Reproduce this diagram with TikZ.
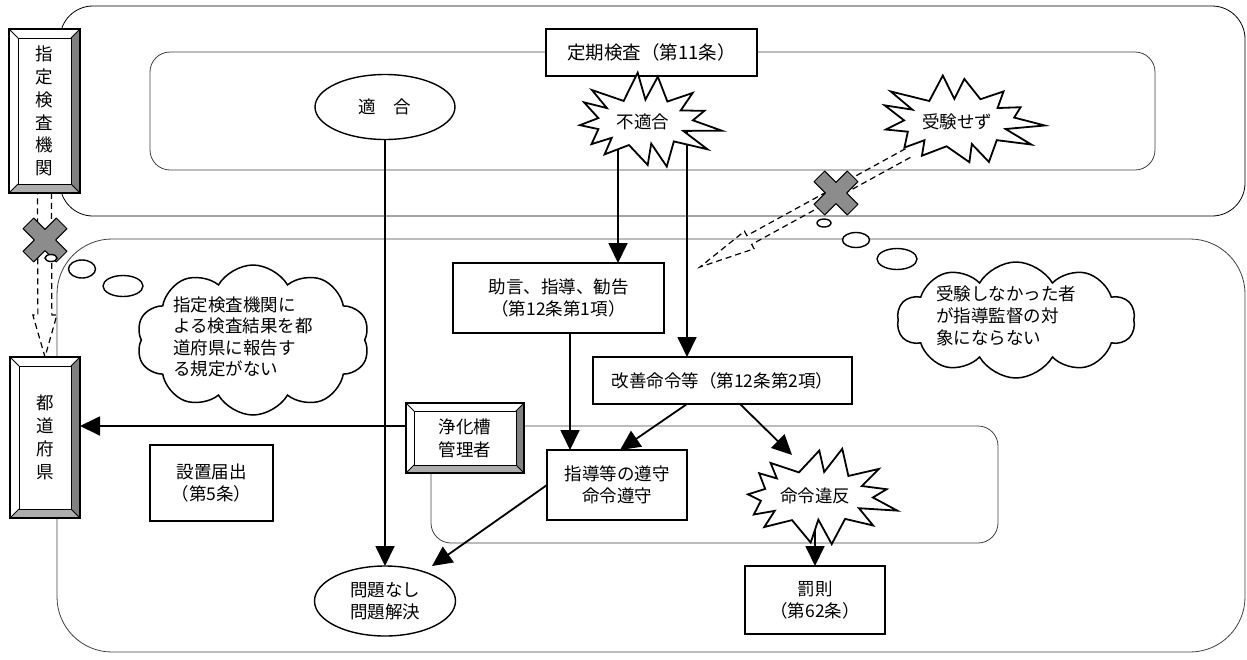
\documentclass[tikz,border=0pt]{standalone}
\usepackage{fontspec}
\setmainfont{Noto Sans CJK JP}
\usetikzlibrary{shapes.symbols,shapes.geometric,arrows.meta,calc,backgrounds}

\newcommand\mybevel[2]{%
  \fill[black!50] (#1.north east) -- (#1.south east) -- ($(#1.south east)+(-#2,-#2)$) -- ($(#1.north east)+(-#2,#2)$) -- cycle;
  \fill[black!32] (#1.south west) -- (#1.south east) -- ($(#1.south east)+(-#2,-#2)$) -- ($(#1.south west)+(#2,-#2)$) -- cycle;
  \draw[line width=1.2pt] (#1.north west) rectangle (#1.south east);
  \draw[line width=1pt] ($(#1.north west)+(#2,#2)$) rectangle ($(#1.south east)+(-#2,-#2)$);
  \draw[line width=0.8pt] (#1.north west) -- ++(#2,#2) (#1.north east) -- ++(-#2,#2)
     (#1.south west) -- ++(#2,-#2) (#1.south east) -- ++(-#2,-#2);
}
\newcommand\myxmark[1]{%
  \draw[xmk, shift={(#1)}, rotate=45] (-7.5,23.5) -- (7.5,23.5) -- (7.5,7.5) -- (23.5,7.5) -- (23.5,-7.5) -- (7.5,-7.5) -- (7.5,-23.5) -- (-7.5,-23.5) -- (-7.5,-7.5) -- (-23.5,-7.5) -- (-23.5,7.5) -- (-7.5,7.5) -- cycle;}
% star: #1 center, #2 rx, #3 ry, #4 inner rx, #5 inner ry, #6 points, #7 seed
\newcommand\mystar[7]{%
  \pgfmathtruncatemacro\mystarlast{#6-1}%
  \draw[burstline, shift={(#1)}]
    ({#2*cos(#7)}, {#3*sin(#7)})
    \foreach \i in {1,...,\mystarlast} {
      -- ({#4*(1-0.12*abs(sin(\i*83+#7)))*cos((\i-0.5)*360/#6+#7)}, {#5*(1-0.12*abs(sin(\i*83+#7)))*sin((\i-0.5)*360/#6+#7)})
      -- ({#2*(1-0.22*abs(sin(\i*157+#7*3)))*cos(\i*360/#6+#7+7*sin(\i*211))}, {#3*(1-0.22*abs(sin(\i*157+#7*3)))*sin(\i*360/#6+#7+7*sin(\i*211))})
    }
    -- ({#4*cos((#6-0.5)*360/#6+#7)}, {#5*sin((#6-0.5)*360/#6+#7)}) -- cycle;
}

\begin{document}
\begin{tikzpicture}[x=1pt,y=-1pt,
  every node/.style={font=\fontsize{17.5}{22.5}\selectfont, inner sep=0pt, outer sep=0pt},
  box/.style={draw, line width=1.5pt, fill=white, align=center},
  bev/.style={fill=white, align=center},
  ell/.style={ellipse, draw, line width=1.4pt, fill=white, align=center},
  burstline/.style={draw, line width=1.8pt, fill=white, line join=miter, miter limit=20},
  cloudsty/.style={cloud, draw, line width=1.5pt, fill=white, cloud puffs=10, cloud puff arc=120, cloud ignores aspect},
  bub/.style={ellipse, draw, line width=1.4pt, fill=white},
  arr/.style={line width=1.8pt, -{Triangle[length=20pt,width=19pt]}},
  frame/.style={line width=0.8pt, draw=black!75},
  hollow/.style={dash pattern=on 6pt off 4pt, line width=1.2pt},
  xmk/.style={fill=black!45, draw, line width=1pt, line join=round}
]
\useasboundingbox (0,0) rectangle (1247,659);

% beveled boxes
\node[bev, minimum width=71pt, minimum height=164pt, font=\fontsize{17.5}{22.8}\selectfont] (skk) at (44.5,111) {指\\定\\検\\査\\機\\関};
\mybevel{skk}{9}
\node[bev, minimum width=70pt, minimum height=161pt, font=\fontsize{17.5}{22.8}\selectfont] (tdf) at (45,437.5) {都\\道\\府\\県};
\mybevel{tdf}{9}

% plain boxes
\node[box, minimum width=211pt, minimum height=47pt, font=\fontsize{18.5}{22.5}\selectfont] (teiki) at (651.5,52.5) {定期検査（第11条）};
\node[box, minimum width=211pt, minimum height=70pt] (jogen) at (558.5,298) {助言、指導、勧告\\（第12条第1項）};
\node[box, minimum width=259pt, minimum height=47pt] (kaizen) at (722.5,380.5) {改善命令等（第12条第2項）};
\node[box, minimum width=123pt, minimum height=76pt] (setchi) at (211.5,483) {設置届出\\（第5条）};
\node[box, minimum width=140pt, minimum height=70pt] (shido) at (617,485) {指導等の遵守\\命令遵守};
\node[box, minimum width=140pt, minimum height=68pt] (bassoku) at (815,600) {罰則\\（第62条）};
\node[ell, minimum width=140pt, minimum height=65pt] (tekigo) at (385,107) {適　合};
\node[ell, minimum width=141pt, minimum height=70pt] (mondai) at (385,601) {問題なし\\問題解決};

% starbursts
\coordinate (futc) at (643,122);
\mystar{futc}{80}{50}{50}{25}{13}{10}
\node (fut) at (futc) {不適合};
\coordinate (jukc) at (957,122);
\mystar{jukc}{88}{50}{58}{26}{13}{4}
\node (juken) at (jukc) {受験せず};
\coordinate (meic) at (815,496);
\mystar{meic}{86}{50}{58}{27}{13}{17}
\node (meirei) at (meic) {命令違反};

% clouds and bubbles
\node[cloudsty, minimum width=233pt, minimum height=150pt] (cl1) at (253,340) {};
\node[align=left, font=\fontsize{17.5}{21.5}\selectfont] (cl1t) at (243,337) {指定検査機関に\\よる検査結果を都\\道府県に報告す\\る規定がない};
\node[cloudsty, minimum width=238pt, minimum height=116pt] (cl2) at (1016,320) {};
\node[align=left, font=\fontsize{17.5}{22}\selectfont] (cl2t) at (1006,316) {受験しなかった者\\が指導監督の対\\象にならない};
\node[bub, minimum width=27pt, minimum height=18pt] (b2) at (82,269) {};
\node[bub, minimum width=40pt, minimum height=21pt] (b3) at (123,286) {};
\node[bub, minimum width=14pt, minimum height=8pt] (b4) at (824,223) {};
\node[bub, minimum width=27pt, minimum height=15pt] (b5) at (856,240) {};
\node[bub, minimum width=40pt, minimum height=21pt] (b6) at (897,259) {};

% manager box
\node[bev, minimum width=118pt, minimum height=70pt, font=\fontsize{17.5}{23}\selectfont] (jk) at (465,438) {浄化槽\\管理者};
\mybevel{jk}{8}

\coordinate (c570) at (570,0);
\coordinate (c618) at (618,0);
\coordinate (c620) at (620,0);
\coordinate (c687) at (687,0);
\coordinate (c740) at (740,0);
\coordinate (lowin) at (0,426);
\coordinate (m1) at (432,566);
\coordinate (mr) at (792,455);

\begin{scope}[on background layer]
  \draw[frame, draw=black] [rounded corners=33pt] (60,6) rectangle (1245,216);
  \draw[frame, rounded corners=20pt] (150,52) rectangle (1155,170);
  \draw[frame, rounded corners=55pt] (57,239) rectangle (1245,652);
  \draw[frame, rounded corners=20pt] (431,426) rectangle (998,543);

  \draw[arr] (tekigo.south) -- (tekigo.south |- mondai.north);
  \draw[arr] (fut.center -| c618) -- (jogen.north -| c618);
  \draw[arr] (fut.center -| c687) -- (kaizen.north -| c687);
  \draw[arr] (jogen.south -| c570) -- (shido.north -| c570);
  \draw[arr] (kaizen.south -| c687) -- (shido.north -| c620);
  \draw[arr] (kaizen.south -| c740) -- (mr);
  \draw[arr] (shido.west) -- (m1);
  \draw[arr] (meirei.center) -- (bassoku.north);
  \draw[arr] (jk.west |- lowin) -- (tdf.east |- lowin);

  % hollow dashed arrows
  \coordinate (ds) at (908,153);
  \coordinate (dt) at (700,267);
  \coordinate (dn) at ($(ds)!181pt!(dt)$);
  \draw[hollow] ($(ds)!5pt!90:(dt)$) -- ($(dn)!5pt!90:(dt)$) -- ($(dn)!10pt!90:(dt)$) -- (dt)
     -- ($(dn)!10pt!-90:(dt)$) -- ($(dn)!5pt!-90:(dt)$) -- ($(ds)!5pt!-90:(dt)$);
  \coordinate (vn) at ($(skk.south)!122pt!(tdf.north)$);
  \draw[hollow] ($(skk.south)!7pt!90:(tdf.north)$) -- ($(vn)!7pt!90:(tdf.north)$) -- ($(vn)!12pt!90:(tdf.north)$) -- (tdf.north)
     -- ($(vn)!12pt!-90:(tdf.north)$) -- ($(vn)!7pt!-90:(tdf.north)$) -- ($(skk.south)!7pt!-90:(tdf.north)$);
\end{scope}

\coordinate (x1) at (45,240);
\coordinate (x2) at (836,193);
\myxmark{x1}
\myxmark{x2}
\node[bub, minimum width=12pt, minimum height=7pt] (b1) at (51,258) {};
\end{tikzpicture}
\end{document}
